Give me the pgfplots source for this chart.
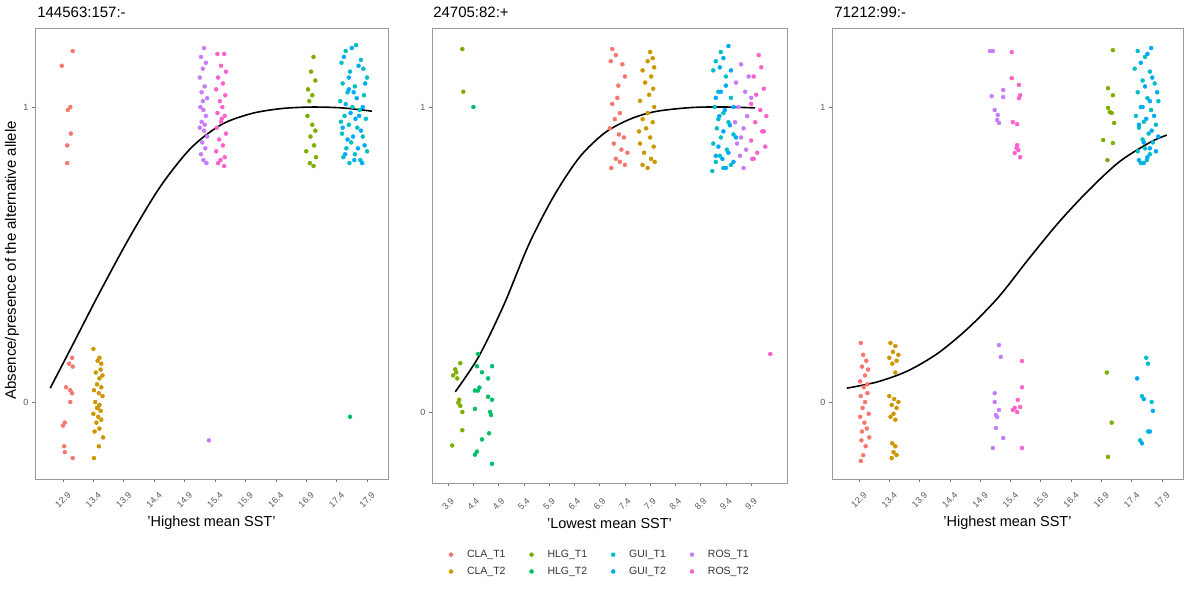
\documentclass[border=0pt]{standalone}
\usepackage{pgfplots}
\pgfplotsset{compat=1.18}
\usepackage{fontspec}
\setmainfont{Liberation Sans}
\definecolor{c1}{HTML}{F8766D}
\definecolor{c2}{HTML}{CD9600}
\definecolor{c3}{HTML}{7CAE00}
\definecolor{c4}{HTML}{00BE67}
\definecolor{c5}{HTML}{00BFC4}
\definecolor{c6}{HTML}{00A9FF}
\definecolor{c7}{HTML}{C77CFF}
\definecolor{c8}{HTML}{FF61CC}
\pgfplotsset{
  pan/.style={
    scale only axis,
    axis line style={black!40, line width=0.9bp},
    tick style={black!55, line width=0.6bp},
    tick align=outside,
    major tick length=3bp,
    xtick pos=bottom, ytick pos=left,
    ytick={0,1}, yticklabels={0,1},
    yticklabel style={font=\fontsize{9bp}{10bp}\selectfont, text=black!65},
    xticklabel style={font=\fontsize{9bp}{10bp}\selectfont, text=black!65, rotate=45, anchor=center},
    xticklabel shift=18bp,
    title style={font=\fontsize{15bp}{17bp}\selectfont, anchor=base west, inner sep=0pt},
    xlabel style={font=\fontsize{14.5bp}{16bp}\selectfont, anchor=center},
  },
  pts/.style={only marks, mark=*, mark size=2bp, color=#1, mark options={draw=none, fill=#1}, forget plot},
  lg/.style={only marks, mark=*, mark size=2bp, color=#1, mark options={draw=none, fill=#1}},
  fit/.style={black, line width=1.6bp, smooth, no markers, forget plot},
}
\begin{document}
\begin{tikzpicture}
\useasboundingbox (0,0) rectangle (1185bp,589bp);
% ---------------- Panel 1 ----------------
\begin{axis}[pan, at={(35bp,110bp)}, anchor=south west, width=353bp, height=451bp,
  xmin=12.44, xmax=18.245, ymin=-0.261, ymax=1.268,
  xtick={12.9,13.4,13.9,14.4,14.9,15.4,15.9,16.4,16.9,17.4,17.9},
  xticklabels={12.9,13.4,13.9,14.4,14.9,15.4,15.9,16.4,16.9,17.4,17.9},
  title={144563:157:-}, title style={at={(axis description cs:0.006,1.01)}},
  xlabel={'Highest mean SST'}, xlabel style={at={(axis description cs:0.5,-0.098)}},
  ylabel={Absence/presence of the alternative allele},
  ylabel style={font=\fontsize{15bp}{17bp}\selectfont, at={(axis description cs:-0.065,0.485)}, anchor=center},
]
\addplot[pts=c1] coordinates {(13.06,1.19) (12.88,1.14) (12.98,0.99) (13.02,1.0) (13.03,0.91) (12.97,0.87) (12.97,0.81) (13.05,0.15) (13.06,0.12) (13.02,0.04) (13.05,0.03) (13.02,0.0) (12.93,-0.07) (12.9,-0.08) (12.92,-0.15) (12.93,-0.17) (13.06,-0.19) (13.0,0.13) (12.95,0.05)};
\addplot[pts=c2] coordinates {(13.4,0.18) (13.5,0.15) (13.53,0.13) (13.47,0.14) (13.52,0.11) (13.44,0.10) (13.5,0.08) (13.46,0.06) (13.53,0.05) (13.41,0.04) (13.49,0.03) (13.55,0.02) (13.43,0.0) (13.5,-0.01) (13.46,-0.02) (13.52,-0.03) (13.4,-0.04) (13.48,-0.05) (13.53,-0.06) (13.45,-0.07) (13.5,-0.09) (13.42,-0.1) (13.56,-0.12) (13.49,-0.15) (13.41,-0.19) (13.55,0.09) (13.47,-0.02)};
\addplot[pts=c7] coordinates {(15.22,1.2) (15.17,1.17) (15.25,1.15) (15.2,1.13) (15.15,1.1) (15.23,1.07) (15.18,1.05) (15.27,1.03) (15.16,1.0) (15.21,0.99) (15.25,0.97) (15.18,0.95) (15.15,0.93) (15.22,0.92) (15.27,0.9) (15.19,0.88) (15.24,0.86) (15.17,0.84) (15.21,0.82) (15.26,0.81) (15.2,1.02) (15.23,0.94) (15.3,-0.13)};
\addplot[pts=c8] coordinates {(15.44,1.18) (15.55,1.18) (15.5,1.14) (15.58,1.12) (15.45,1.1) (15.53,1.08) (15.42,1.06) (15.57,1.04) (15.48,1.02) (15.52,1.0) (15.44,0.98) (15.56,0.97) (15.5,0.95) (15.43,0.93) (15.58,0.91) (15.47,0.89) (15.53,0.87) (15.42,0.85) (15.56,0.83) (15.49,0.82) (15.45,0.81) (15.55,0.8) (15.51,0.96)};
\addplot[pts=c3] coordinates {(17.02,1.17) (16.98,1.12) (17.05,1.09) (16.93,1.06) (17.0,1.04) (16.95,1.02) (16.92,0.97) (17.0,0.94) (17.05,0.92) (16.97,0.9) (17.03,0.87) (16.9,0.85) (17.06,0.83) (16.96,0.81) (17.02,0.8)};
\addplot[pts=c5] coordinates {(17.55,1.19) (17.72,1.21) (17.48,1.15) (17.8,1.16) (17.62,1.12) (17.9,1.1) (17.5,1.08) (17.7,1.07) (17.58,1.05) (17.85,1.04) (17.46,1.02) (17.66,1.0) (17.78,0.99) (17.53,0.97) (17.88,0.96) (17.6,0.94) (17.74,0.93) (17.49,0.91) (17.83,0.9) (17.64,0.88) (17.56,0.86) (17.9,0.85) (17.7,0.84) (17.51,0.83) (17.79,0.82) (17.61,0.81) (17.84,1.13) (17.47,0.95)};
\addplot[pts=c6] coordinates {(17.65,1.2) (17.52,1.17) (17.76,1.14) (17.6,1.1) (17.87,1.08) (17.68,1.05) (17.73,1.03) (17.55,1.01) (17.83,1.0) (17.63,0.98) (17.71,0.96) (17.5,0.93) (17.8,0.92) (17.67,0.9) (17.58,0.89) (17.86,0.87) (17.75,0.86) (17.54,0.84) (17.69,0.82) (17.82,0.81) (17.6,1.06) (17.77,0.97)};
\addplot[pts=c4] coordinates {(17.62,-0.05)};
\addplot[fit] coordinates {(12.69,0.047) (13.0,0.17) (13.5,0.37) (14.0,0.56) (14.5,0.73) (15.0,0.86) (15.5,0.94) (16.0,0.978) (16.5,0.995) (17.0,1.0) (17.5,0.997) (17.98,0.986)};
\end{axis}
% ---------------- Panel 2 ----------------
\begin{axis}[pan, at={(432bp,106bp)}, anchor=south west, width=355bp, height=455bp,
  xmin=3.58, xmax=10.61, ymin=-0.233, ymax=1.259,
  xtick={3.9,4.4,4.9,5.4,5.9,6.4,6.9,7.4,7.9,8.4,8.9,9.4,9.9},
  xticklabels={3.9,4.4,4.9,5.4,5.9,6.4,6.9,7.4,7.9,8.4,8.9,9.4,9.9},
  title={24705:82:+}, title style={at={(axis description cs:0.003,1.01)}},
  xlabel={'Lowest mean SST'}, xlabel style={at={(axis description cs:0.5,-0.088)}},
  legend columns=4,
  legend style={at={(axis description cs:0.473,-0.176)}, anchor=center, draw=none, fill=none,
    font=\fontsize{10.5bp}{12bp}\selectfont, text=black!80, row sep=4bp,
    /tikz/every odd column/.append style={column sep=12bp},
    /tikz/every even column/.append style={column sep=22bp}},
]
\addplot[pts=c3] coordinates {(4.18,1.19) (4.2,1.05) (4.14,0.16) (4.04,0.14) (4.0,0.12) (4.08,0.11) (4.1,0.03) (4.14,0.02) (4.18,0.0) (4.18,-0.06) (3.98,-0.11) (4.06,0.13) (4.12,0.04)};
\addplot[pts=c4] coordinates {(4.4,1.0) (4.49,0.19) (4.47,0.15) (4.57,0.13) (4.69,0.11) (4.77,0.15) (4.43,0.07) (4.49,0.07) (4.69,0.05) (4.77,0.04) (4.43,0.01) (4.73,0.0) (4.57,-0.09) (4.71,-0.07) (4.43,-0.14) (4.47,-0.13) (4.77,-0.17) (4.52,0.08) (4.75,-0.01)};
\addplot[pts=c1] coordinates {(7.15,1.19) (7.22,1.17) (7.12,1.15) (7.35,1.14) (7.4,1.1) (7.25,1.03) (7.15,1.01) (7.3,0.98) (7.2,0.96) (7.1,0.93) (7.28,0.91) (7.38,0.9) (7.18,0.88) (7.33,0.86) (7.45,0.85) (7.22,0.83) (7.3,0.82) (7.13,0.8) (7.4,0.81) (7.27,1.07)};
\addplot[pts=c2] coordinates {(7.9,1.18) (7.95,1.16) (7.85,1.15) (7.98,1.13) (7.75,1.12) (7.92,1.1) (7.8,1.08) (7.96,1.06) (7.88,1.04) (7.7,1.02) (7.98,1.0) (7.85,0.98) (7.75,0.96) (7.95,0.95) (7.82,0.93) (7.9,0.9) (7.7,0.88) (7.97,0.87) (7.78,0.85) (7.92,0.83) (7.75,0.81) (7.85,0.8) (7.99,0.82) (7.68,0.92)};
\addplot[pts=c5] coordinates {(9.3,1.18) (9.2,1.15) (9.15,1.12) (9.4,1.1) (9.25,1.05) (9.5,1.03) (9.18,1.0) (9.35,0.98) (9.45,0.95) (9.22,0.93) (9.55,0.91) (9.3,0.9) (9.15,0.88) (9.42,0.86) (9.28,0.84) (9.2,0.82) (9.5,0.81) (9.35,0.8) (9.13,0.79) (9.25,0.96)};
\addplot[pts=c6] coordinates {(9.45,1.2) (9.35,1.16) (9.28,1.13) (9.5,1.12) (9.4,1.07) (9.3,1.05) (9.2,1.03) (9.55,1.0) (9.38,0.99) (9.27,0.97) (9.48,0.94) (9.35,0.92) (9.6,0.9) (9.25,0.87) (9.45,0.85) (9.33,0.83) (9.55,0.82) (9.2,0.84) (9.4,0.8)};
\addplot[pts=c7] coordinates {(9.7,1.14) (9.85,1.1) (9.6,1.08) (9.78,1.05) (9.9,1.03) (9.65,1.0) (9.82,0.97) (9.58,0.95) (9.75,0.93) (9.7,0.9) (9.62,0.88) (9.8,0.86) (9.68,0.84) (9.92,0.83) (9.75,0.8)};
\addplot[pts=c8] coordinates {(10.05,1.17) (10.1,1.13) (9.95,1.1) (10.15,1.06) (10.0,1.04) (9.9,1.01) (10.08,0.99) (10.2,0.97) (9.98,0.95) (10.12,0.92) (9.9,0.89) (10.18,0.87) (10.02,0.85) (9.95,0.83) (10.15,0.92) (10.28,0.19)};
\addplot[fit] coordinates {(4.04,0.066) (4.5,0.18) (5.0,0.35) (5.5,0.55) (6.0,0.71) (6.5,0.835) (7.0,0.915) (7.5,0.96) (8.0,0.985) (8.7,0.998) (9.35,1.0) (9.98,0.997)};
\addlegendimage{lg=c1}
\addlegendentry{CLA\_T1}
\addlegendimage{lg=c3}
\addlegendentry{HLG\_T1}
\addlegendimage{lg=c5}
\addlegendentry{GUI\_T1}
\addlegendimage{lg=c7}
\addlegendentry{ROS\_T1}
\addlegendimage{lg=c2}
\addlegendentry{CLA\_T2}
\addlegendimage{lg=c4}
\addlegendentry{HLG\_T2}
\addlegendimage{lg=c6}
\addlegendentry{GUI\_T2}
\addlegendimage{lg=c8}
\addlegendentry{ROS\_T2}
\end{axis}
% ---------------- Panel 3 ----------------
\begin{axis}[pan, at={(832bp,110bp)}, anchor=south west, width=351bp, height=451bp,
  xmin=12.455, xmax=18.247, ymin=-0.261, ymax=1.268,
  xtick={12.9,13.4,13.9,14.4,14.9,15.4,15.9,16.4,16.9,17.4,17.9},
  xticklabels={12.9,13.4,13.9,14.4,14.9,15.4,15.9,16.4,16.9,17.4,17.9},
  title={71212:99:-}, title style={at={(axis description cs:0.006,1.01)}},
  xlabel={'Highest mean SST'}, xlabel style={at={(axis description cs:0.5,-0.098)}},
]
\addplot[pts=c1] coordinates {(12.93,0.2) (12.97,0.16) (13.02,0.14) (12.95,0.12) (13.05,0.11) (13.0,0.09) (12.92,0.07) (12.98,0.05) (13.04,0.03) (12.93,0.02) (13.0,0.0) (12.96,-0.02) (13.06,-0.04) (12.92,-0.05) (12.99,-0.07) (13.03,-0.09) (12.95,-0.1) (13.07,-0.12) (12.94,-0.13) (13.01,-0.15) (12.97,-0.18) (12.93,-0.2) (13.04,0.06)};
\addplot[pts=c2] coordinates {(13.42,0.2) (13.5,0.19) (13.46,0.17) (13.55,0.16) (13.4,0.15) (13.52,0.14) (13.45,0.13) (13.5,0.1) (13.4,0.02) (13.48,0.01) (13.55,0.0) (13.44,-0.01) (13.52,-0.02) (13.47,-0.04) (13.42,-0.05) (13.5,-0.06) (13.45,-0.14) (13.5,-0.15) (13.47,-0.17) (13.52,-0.18) (13.44,-0.19)};
\addplot[pts=c7] coordinates {(15.06,1.19) (15.11,1.19) (15.09,1.037) (15.28,1.058) (15.28,1.034) (15.14,0.99) (15.19,0.973) (15.18,0.956) (15.21,0.946) (15.21,0.193) (15.24,0.153) (15.14,0.03) (15.14,0.0) (15.21,-0.027) (15.16,-0.044) (15.18,-0.051) (15.16,-0.088) (15.28,-0.122) (15.11,-0.156)};
\addplot[pts=c8] coordinates {(15.42,1.186) (15.42,1.098) (15.54,1.075) (15.56,1.04) (15.54,1.03) (15.44,0.949) (15.51,0.942) (15.51,0.871) (15.53,0.854) (15.47,0.844) (15.56,0.83) (15.5,0.861) (15.59,0.139) (15.59,0.05) (15.52,0.007) (15.47,-0.02) (15.56,-0.017) (15.51,-0.034) (15.44,-0.027) (15.59,-0.156)};
\addplot[pts=c3] coordinates {(17.09,1.193) (17.01,1.064) (17.09,1.04) (17.01,0.997) (17.07,0.98) (17.11,0.946) (16.93,0.888) (17.09,0.878) (17.0,0.82) (17.04,0.983) (16.99,0.1) (17.07,-0.07) (17.01,-0.186)};
\addplot[pts=c5] coordinates {(17.5,1.19) (17.62,1.17) (17.45,1.13) (17.7,1.12) (17.58,1.09) (17.78,1.08) (17.5,1.05) (17.66,1.03) (17.84,1.02) (17.55,1.0) (17.72,0.99) (17.47,0.97) (17.6,0.95) (17.8,0.94) (17.52,0.93) (17.68,0.91) (17.58,0.89) (17.75,0.88) (17.62,0.86) (17.5,0.85) (17.7,0.84) (17.55,0.81) (17.65,0.82) (17.64,0.15) (17.67,0.13) (17.57,0.02) (17.73,0.0) (17.67,-0.1) (17.54,-0.13)};
\addplot[pts=c6] coordinates {(17.72,1.2) (17.66,1.18) (17.55,1.15) (17.74,1.1) (17.62,1.07) (17.82,1.05) (17.7,1.02) (17.58,1.0) (17.77,0.97) (17.64,0.96) (17.52,0.94) (17.73,0.92) (17.84,0.9) (17.6,0.88) (17.7,0.86) (17.8,0.85) (17.66,0.83) (17.52,0.82) (17.6,0.81) (17.49,0.08) (17.6,0.01) (17.75,-0.03) (17.7,-0.1) (17.57,-0.14)};
\addplot[fit] coordinates {(12.7,0.047) (13.2,0.068) (13.7,0.105) (14.2,0.165) (14.7,0.25) (15.2,0.355) (15.7,0.485) (16.2,0.61) (16.7,0.72) (17.2,0.815) (17.7,0.88) (17.98,0.905)};
\end{axis}
\end{tikzpicture}
\end{document}
